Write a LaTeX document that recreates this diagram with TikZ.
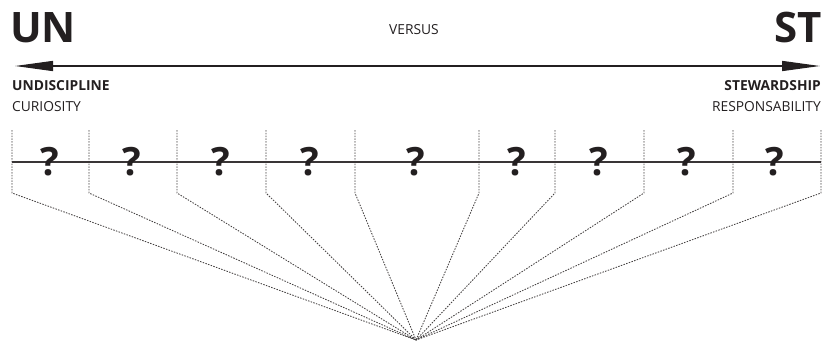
\documentclass[tikz,border=0pt]{standalone}
\usepackage{fontspec}
\setmainfont{Open Sans}
\usetikzlibrary{arrows.meta}
\definecolor{ink}{HTML}{231F20}

\begin{document}
\begin{tikzpicture}[x=1pt,y=-1pt,>={Triangle[length=38pt,width=10pt]},
		big/.style={font=\fontsize{42}{42}\selectfont\bfseries,text=ink,inner sep=0pt},
		pole/.style={font=\fontsize{13.8}{14}\selectfont\bfseries,text=ink,inner sep=0pt},
		value/.style={font=\fontsize{13.8}{14}\selectfont,text=ink,inner sep=0pt},
		quest/.style={font=\fontsize{39}{39}\selectfont\bfseries,text=ink,inner sep=0pt},
		divider/.style={draw=ink!85,dash pattern=on 1.5pt off 1.3pt,line width=0.85pt}]
		\useasboundingbox (0,0) rectangle (826,342);
		% headings
		\node[big,anchor=base west]  (UN) at (10,43)  {UN};
		\node[big,anchor=base east]  (ST) at (822,43) {ST};
		\node[value,anchor=base]     (VERSUS) at (414,35) {VERSUS};
		\node[pole,anchor=base west] (UNDISCIPLINE) at (12,91)  {UNDISCIPLINE};
		\node[value,anchor=base west] (CURIOSITY)   at (12,112) {CURIOSITY};
		\node[pole,anchor=base east] (STEWARDSHIP)  at (821,91)  {STEWARDSHIP};
		\node[value,anchor=base east] (RESPONSABILITY) at (821,112) {RESPONSABILITY};
		% double arrow
		\coordinate (UNtip) at (15,66);
		\coordinate (STtip) at (820,66);
		\draw[ink,line width=1.4pt,<->] (UNtip) -- (STtip);
		% dividers down to one point
		\coordinate (apex) at (416,340);
		\foreach \x [count=\i] in {12,89,177,266,355,479,555,644,733,821}{
			\coordinate (top\i) at (\x,130);
			\coordinate (bend\i) at (\x,193);
			\draw[divider] (top\i) -- (bend\i) -- (apex);
		}
		% scale
		\draw[ink!90,line width=1.6pt] (top1 |- 0,162) -- (top10 |- 0,162);
		\foreach \x [count=\i] in {50,132,221,310,416,517,599,687,775}
			\node[quest] (q\i) at (\x,162) {?};
	\end{tikzpicture}
\end{document}
